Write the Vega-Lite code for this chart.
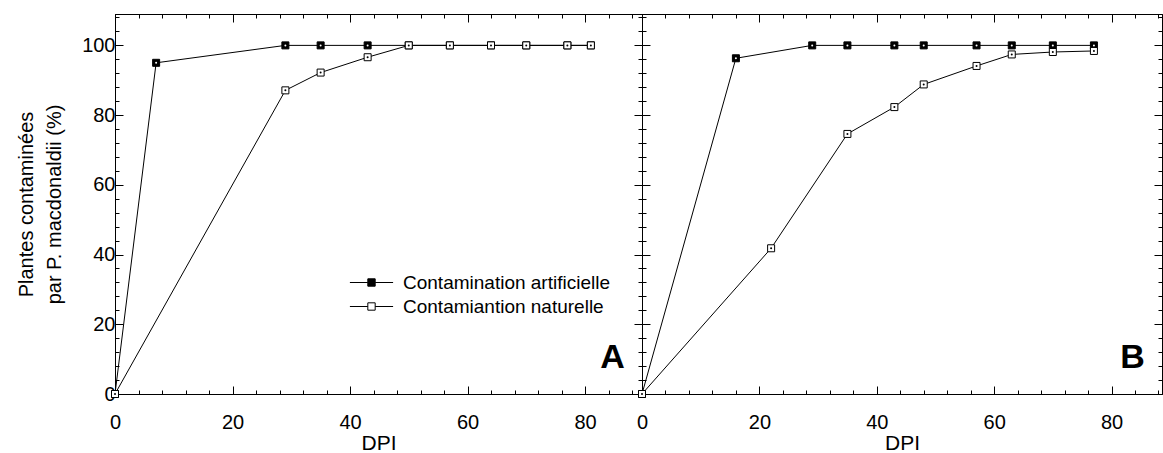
{
  "$schema": "https://vega.github.io/schema/vega-lite/v6.json",
  "padding": {"left": 16, "top": 6, "right": 0, "bottom": 0},
  "background": "white",
  "config": {
    "font": "Liberation Sans",
    "view": {"stroke": "black", "strokeWidth": 1},
    "axis": {
      "domainColor": "black", "domainWidth": 1, "tickColor": "black", "tickWidth": 1,
      "labelColor": "black", "titleColor": "black", "labelFontSize": 20, "titleFontSize": 21,
      "titleFontWeight": "normal", "grid": false, "labelFont": "Liberation Sans", "titleFont": "Liberation Sans",
      "labelOverlap": false, "labelFlush": false
    }
  },
  "datasets": {
    "pts": [
      {"panel": "A", "type": "Contamination artificielle", "dpi": 0, "pct": 0},
      {"panel": "A", "type": "Contamination artificielle", "dpi": 7, "pct": 95},
      {"panel": "A", "type": "Contamination artificielle", "dpi": 29, "pct": 100},
      {"panel": "A", "type": "Contamination artificielle", "dpi": 35, "pct": 100},
      {"panel": "A", "type": "Contamination artificielle", "dpi": 43, "pct": 100},
      {"panel": "A", "type": "Contamination artificielle", "dpi": 50, "pct": 100},
      {"panel": "A", "type": "Contamination artificielle", "dpi": 57, "pct": 100},
      {"panel": "A", "type": "Contamination artificielle", "dpi": 64, "pct": 100},
      {"panel": "A", "type": "Contamination artificielle", "dpi": 70, "pct": 100},
      {"panel": "A", "type": "Contamination artificielle", "dpi": 77, "pct": 100},
      {"panel": "A", "type": "Contamination artificielle", "dpi": 81, "pct": 100},
      {"panel": "A", "type": "Contamiantion naturelle", "dpi": 0, "pct": 0},
      {"panel": "A", "type": "Contamiantion naturelle", "dpi": 29, "pct": 87.1},
      {"panel": "A", "type": "Contamiantion naturelle", "dpi": 35, "pct": 92.2},
      {"panel": "A", "type": "Contamiantion naturelle", "dpi": 43, "pct": 96.6},
      {"panel": "A", "type": "Contamiantion naturelle", "dpi": 50, "pct": 100},
      {"panel": "A", "type": "Contamiantion naturelle", "dpi": 57, "pct": 100},
      {"panel": "A", "type": "Contamiantion naturelle", "dpi": 64, "pct": 100},
      {"panel": "A", "type": "Contamiantion naturelle", "dpi": 70, "pct": 100},
      {"panel": "A", "type": "Contamiantion naturelle", "dpi": 77, "pct": 100},
      {"panel": "A", "type": "Contamiantion naturelle", "dpi": 81, "pct": 100},
      {"panel": "B", "type": "Contamination artificielle", "dpi": 0, "pct": 0},
      {"panel": "B", "type": "Contamination artificielle", "dpi": 16, "pct": 96.3},
      {"panel": "B", "type": "Contamination artificielle", "dpi": 29, "pct": 100},
      {"panel": "B", "type": "Contamination artificielle", "dpi": 35, "pct": 100},
      {"panel": "B", "type": "Contamination artificielle", "dpi": 43, "pct": 100},
      {"panel": "B", "type": "Contamination artificielle", "dpi": 48, "pct": 100},
      {"panel": "B", "type": "Contamination artificielle", "dpi": 57, "pct": 100},
      {"panel": "B", "type": "Contamination artificielle", "dpi": 63, "pct": 100},
      {"panel": "B", "type": "Contamination artificielle", "dpi": 70, "pct": 100},
      {"panel": "B", "type": "Contamination artificielle", "dpi": 77, "pct": 100},
      {"panel": "B", "type": "Contamiantion naturelle", "dpi": 0, "pct": 0},
      {"panel": "B", "type": "Contamiantion naturelle", "dpi": 22, "pct": 41.8},
      {"panel": "B", "type": "Contamiantion naturelle", "dpi": 35, "pct": 74.6},
      {"panel": "B", "type": "Contamiantion naturelle", "dpi": 43, "pct": 82.3},
      {"panel": "B", "type": "Contamiantion naturelle", "dpi": 48, "pct": 88.8},
      {"panel": "B", "type": "Contamiantion naturelle", "dpi": 57, "pct": 94.1},
      {"panel": "B", "type": "Contamiantion naturelle", "dpi": 63, "pct": 97.4},
      {"panel": "B", "type": "Contamiantion naturelle", "dpi": 70, "pct": 98.1},
      {"panel": "B", "type": "Contamiantion naturelle", "dpi": 77, "pct": 98.4}
    ]
  },
  "spacing": 0,
  "bounds": "flush",
  "resolve": {"scale": {"x": "independent", "y": "independent", "fill": "independent"}, "legend": {"fill": "independent"}},
  "hconcat": [
    {
      "width": 527, "height": 380,
      "data": {"name": "pts"},
      "transform": [{"filter": "datum.panel === 'A'"}],
      "layer": [
        {
          "mark": {"type": "line", "color": "black", "strokeWidth": 1},
          "encoding": {
            "x": {"field": "dpi", "type": "quantitative", "scale": {"domain": [0, 89.7], "nice": false, "zero": false},
              "axis": {"orient": "bottom", "values": [0,4,8,12,16,20,24,28,32,36,40,44,48,52,56,60,64,68,72,76,80,84,88],
                "labelExpr": "datum.value % 20 === 0 ? datum.label : ''",
                "tickSize": {"condition": {"test": "datum.value % 20 === 0", "value": -8}, "value": -4},
                "title": "DPI", "labelPadding": 26, "titlePadding": -4}},
            "y": {"field": "pct", "type": "quantitative", "scale": {"domain": [0, 109], "nice": false},
              "axis": {"orient": "left", "values": [0,4,8,12,16,20,24,28,32,36,40,44,48,52,56,60,64,68,72,76,80,84,88,92,96,100,104,108],
                "labelExpr": "datum.value % 20 === 0 ? datum.label : ''",
                "tickSize": {"condition": {"test": "datum.value % 20 === 0", "value": -8}, "value": -4},
                "title": ["Plantes contaminées", "par P. macdonaldii (%)"], "titleFontSize": 20, "titleLineHeight": 28,
                "labelPadding": 8, "titlePadding": 17}},
            "detail": {"field": "type"}
          }
        },
        {
          "mark": {"type": "point", "shape": "square", "filled": true, "size": 49, "stroke": "black", "strokeWidth": 1, "opacity": 1},
          "encoding": {
            "x": {"field": "dpi", "type": "quantitative",
              "axis": {"orient": "top", "values": [0,4,8,12,16,20,24,28,32,36,40,44,48,52,56,60,64,68,72,76,80,84,88], "labels": false, "title": null,
                "tickSize": {"condition": {"test": "datum.value % 20 === 0", "value": -8}, "value": -4}}},
            "y": {"field": "pct", "type": "quantitative",
              "axis": {"orient": "right", "values": [0,4,8,12,16,20,24,28,32,36,40,44,48,52,56,60,64,68,72,76,80,84,88,92,96,100,104,108], "labels": false, "title": null,
                "tickSize": {"condition": {"test": "datum.value % 20 === 0", "value": -8}, "value": -4}}},
            "fill": {"field": "type", "type": "nominal",
              "scale": {"domain": ["Contamination artificielle", "Contamiantion naturelle"], "range": ["black", "white"]},
              "legend": {"orient": "none", "legendX": 247, "legendY": 259, "title": null,
                "symbolType": "M-2.7,0H-0.46M0.46,0H2.7M-0.46,-0.46H0.46V0.46H-0.46Z", "symbolSize": 256,
                "symbolStrokeColor": "black", "symbolStrokeWidth": 1, "symbolOpacity": 1,
                "labelFontSize": 19, "labelFont": "Liberation Sans", "labelColor": "black", "labelOffset": 22, "labelLimit": 400,
                "rowPadding": 4, "padding": 0}}
          }
        },
        {
          "mark": {"type": "point", "shape": "circle", "filled": true, "size": 4, "strokeWidth": 0, "opacity": 1},
          "encoding": {
            "x": {"field": "dpi", "type": "quantitative", "axis": null},
            "y": {"field": "pct", "type": "quantitative", "axis": null},
            "fill": {"condition": {"test": "datum.type === 'Contamination artificielle'", "value": "white"}, "value": "black"}
          }
        },
        {
          "data": {"values": [{}]},
          "mark": {"type": "text", "text": "A", "fontSize": 34, "fontWeight": "bold", "color": "black", "align": "center", "baseline": "middle"},
          "encoding": {
            "x": {"datum": 84.7, "type": "quantitative", "axis": null},
            "y": {"datum": 10.3, "type": "quantitative", "axis": null}
          }
        }
      ],
      "resolve": {"axis": {"x": "independent", "y": "independent"}}
    },
    {
      "width": 520, "height": 380,
      "data": {"name": "pts"},
      "transform": [{"filter": "datum.panel === 'B'"}],
      "layer": [
        {
          "mark": {"type": "line", "color": "black", "strokeWidth": 1},
          "encoding": {
            "x": {"field": "dpi", "type": "quantitative", "scale": {"domain": [0, 88.6], "nice": false, "zero": false},
              "axis": {"orient": "bottom", "values": [0,4,8,12,16,20,24,28,32,36,40,44,48,52,56,60,64,68,72,76,80,84,88],
                "labelExpr": "datum.value % 20 === 0 ? datum.label : ''",
                "tickSize": {"condition": {"test": "datum.value % 20 === 0", "value": -8}, "value": -4},
                "title": "DPI", "labelPadding": 26, "titlePadding": -4}},
            "y": {"field": "pct", "type": "quantitative", "scale": {"domain": [0, 109], "nice": false},
              "axis": {"orient": "left", "values": [0,4,8,12,16,20,24,28,32,36,40,44,48,52,56,60,64,68,72,76,80,84,88,92,96,100,104,108],
                "labels": false, "title": null,
                "tickSize": {"condition": {"test": "datum.value % 20 === 0", "value": -8}, "value": -4}}},
            "detail": {"field": "type"}
          }
        },
        {
          "mark": {"type": "point", "shape": "square", "filled": true, "size": 49, "stroke": "black", "strokeWidth": 1, "opacity": 1},
          "encoding": {
            "x": {"field": "dpi", "type": "quantitative",
              "axis": {"orient": "top", "values": [0,4,8,12,16,20,24,28,32,36,40,44,48,52,56,60,64,68,72,76,80,84,88], "labels": false, "title": null,
                "tickSize": {"condition": {"test": "datum.value % 20 === 0", "value": -8}, "value": -4}}},
            "y": {"field": "pct", "type": "quantitative",
              "axis": {"orient": "right", "values": [0,4,8,12,16,20,24,28,32,36,40,44,48,52,56,60,64,68,72,76,80,84,88,92,96,100,104,108], "labels": false, "title": null,
                "tickSize": {"condition": {"test": "datum.value % 20 === 0", "value": -8}, "value": -4}}},
            "fill": {"field": "type", "type": "nominal",
              "scale": {"domain": ["Contamination artificielle", "Contamiantion naturelle"], "range": ["black", "white"]},
              "legend": null}
          }
        },
        {
          "mark": {"type": "point", "shape": "circle", "filled": true, "size": 4, "strokeWidth": 0, "opacity": 1},
          "encoding": {
            "x": {"field": "dpi", "type": "quantitative", "axis": null},
            "y": {"field": "pct", "type": "quantitative", "axis": null},
            "fill": {"condition": {"test": "datum.type === 'Contamination artificielle'", "value": "white"}, "value": "black"}
          }
        },
        {
          "data": {"values": [{}]},
          "mark": {"type": "text", "text": "B", "fontSize": 34, "fontWeight": "bold", "color": "black", "align": "center", "baseline": "middle"},
          "encoding": {
            "x": {"datum": 83.6, "type": "quantitative", "axis": null},
            "y": {"datum": 10.3, "type": "quantitative", "axis": null}
          }
        }
      ],
      "resolve": {"axis": {"x": "independent", "y": "independent"}}
    }
  ]
}
